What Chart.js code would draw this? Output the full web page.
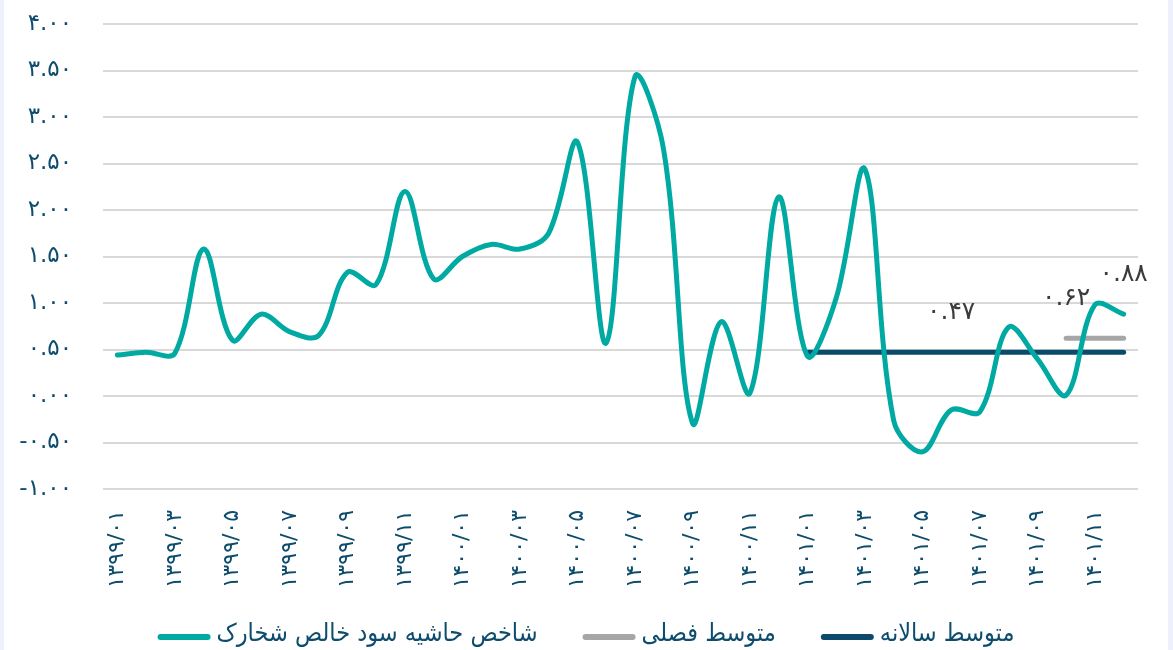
<!DOCTYPE html>
<html lang="fa">
<head>
<meta charset="utf-8">
<title>شاخص حاشیه سود خالص شخارک</title>
<script src="https://cdn.jsdelivr.net/npm/chart.js@4.4.1/dist/chart.umd.min.js"></script>
<style>
  html, body { margin: 0; padding: 0; background: #eef0fb; }
  .card { position: absolute; left: 4px; top: 0; width: 1164px; height: 650px; background: #fff; }
</style>
</head>
<body>
<div class="card"><canvas id="marginChart" width="1164" height="650"></canvas></div>
<script>
// Persian digits for all labels
const faDigits = '۰۱۲۳۴۵۶۷۸۹';
function toFa(s) {
  return String(s).replace(/\d/g, d => faDigits[d]);
}

// monthly categories 1399/01 .. 1401/12
const years = [1399, 1400, 1401];
const months = years.flatMap(y =>
  Array.from({ length: 12 }, (_, m) => toFa(y + '/' + String(m + 1).padStart(2, '0'))));

const netMargin = [
  0.44, 0.47, 0.46, 1.58, 0.60, 0.88, 0.69, 0.65, 1.33, 1.20, 2.20, 1.26,
  1.50, 1.63, 1.58, 1.75, 2.73, 0.57, 3.43, 2.65, -0.29, 0.80, 0.03, 2.14,
  0.43, 1.05, 2.44, -0.26, -0.60, -0.15, -0.17, 0.74, 0.40, 0.01, 0.98, 0.88
];

const annualAvg = 0.47;
const annualFrom = toFa('1401/01');
const seasonalAvg = 0.62;
const seasonalFrom = toFa('1401/10');

const yTicks = { min: -1, max: 4, step: 0.5 };

const seriesNames = ['شاخص حاشیه سود خالص شخارک', 'متوسط فصلی', 'متوسط سالانه'];
const seriesColors = ['#00aaa3', '#a6a6a6', '#0b4a6b'];

function flatFrom(value, from) {
  const start = months.indexOf(from);
  return months.map((m, i) => (i >= start ? value : null));
}

const navy = '#0d4c6c';
Chart.defaults.font.family = '"DejaVu Sans", sans-serif';

// value text above a chosen point of each series
const valueLabels = {
  id: 'valueLabels',
  afterDatasetsDraw(chart) {
    const ctx = chart.ctx;
    ctx.save();
    ctx.font = '25px "DejaVu Sans"';
    ctx.fillStyle = '#3c3c3c';
    ctx.textAlign = 'center';
    ctx.textBaseline = 'middle';
    chart.data.datasets.forEach((ds, di) => {
      const pt = chart.getDatasetMeta(di).data[ds.labelAt];
      if (!pt) return;
      ctx.fillText(toFa(ds.data[ds.labelAt].toFixed(2)), pt.x, pt.y - 40);
    });
    ctx.restore();
  }
};

// line-swatch legend along the bottom
const lineLegend = {
  id: 'lineLegend',
  afterDraw(chart) {
    const ctx = chart.ctx;
    const swatch = 53, gap = 6, spacing = 45, y = 634;
    ctx.save();
    ctx.font = '25px "DejaVu Sans Condensed", "DejaVu Sans"';
    const items = chart.data.datasets.map(ds => ({
      label: ds.label, color: ds.borderColor, w: ctx.measureText(ds.label).width
    }));
    const total = items.reduce((s, it) => s + swatch + gap + it.w, 0) + spacing * (items.length - 1);
    let x = (chart.width - total) / 2;
    items.forEach(it => {
      ctx.strokeStyle = it.color;
      ctx.lineWidth = 6;
      ctx.lineCap = 'round';
      ctx.beginPath();
      ctx.moveTo(x + 3, y + 3);
      ctx.lineTo(x + swatch - 3, y + 3);
      ctx.stroke();
      ctx.fillStyle = navy;
      ctx.textAlign = 'left';
      ctx.textBaseline = 'middle';
      ctx.fillText(it.label, x + swatch + gap, y);
      x += swatch + gap + it.w + spacing;
    });
    ctx.restore();
  }
};

const ctx = document.getElementById('marginChart').getContext('2d');
new Chart(ctx, {
  type: 'line',
  data: {
    labels: months,
    datasets: [
      {
        label: seriesNames[0],
        data: netMargin,
        borderColor: seriesColors[0],
        borderWidth: 5,
        tension: 0.35,
        labelAt: months.length - 1
      },
      {
        label: seriesNames[1],
        data: flatFrom(seasonalAvg, seasonalFrom),
        borderColor: seriesColors[1],
        borderWidth: 5,
        labelAt: months.indexOf(seasonalFrom)
      },
      {
        label: seriesNames[2],
        data: flatFrom(annualAvg, annualFrom),
        borderColor: seriesColors[2],
        borderWidth: 5,
        labelAt: months.indexOf(toFa('1401/06'))
      }
    ]
  },
  options: {
    responsive: false,
    animation: false,
    layout: { padding: { top: 24, right: 30, bottom: 61, left: 0 } },
    elements: {
      point: { radius: 0, hoverRadius: 0 },
      line: { borderCapStyle: 'round', borderJoinStyle: 'round' }
    },
    plugins: {
      legend: { display: false },
      tooltip: { enabled: false }
    },
    scales: {
      x: {
        offset: true,
        grid: { display: false, drawTicks: true, tickLength: 21 },
        border: { display: false },
        afterFit: s => { s.height = 100; },
        ticks: {
          autoSkip: false,
          maxRotation: 90,
          minRotation: 90,
          padding: 0,
          color: navy,
          font: { size: 22 },
          callback: (v, i) => (i % 2 === 0 ? months[i] : '')
        }
      },
      y: {
        min: yTicks.min,
        max: yTicks.max,
        grid: { color: '#d9d9d9', lineWidth: 2, drawTicks: true, tickLength: 29, tickColor: 'rgba(0,0,0,0)' },
        border: { display: false },
        afterFit: s => { s.width = 99; },
        ticks: {
          stepSize: yTicks.step,
          padding: 2,
          color: navy,
          font: { size: 23 },
          callback: v => toFa(v.toFixed(2))
        }
      }
    }
  },
  plugins: [valueLabels, lineLegend]
});
</script>
</body>
</html>
